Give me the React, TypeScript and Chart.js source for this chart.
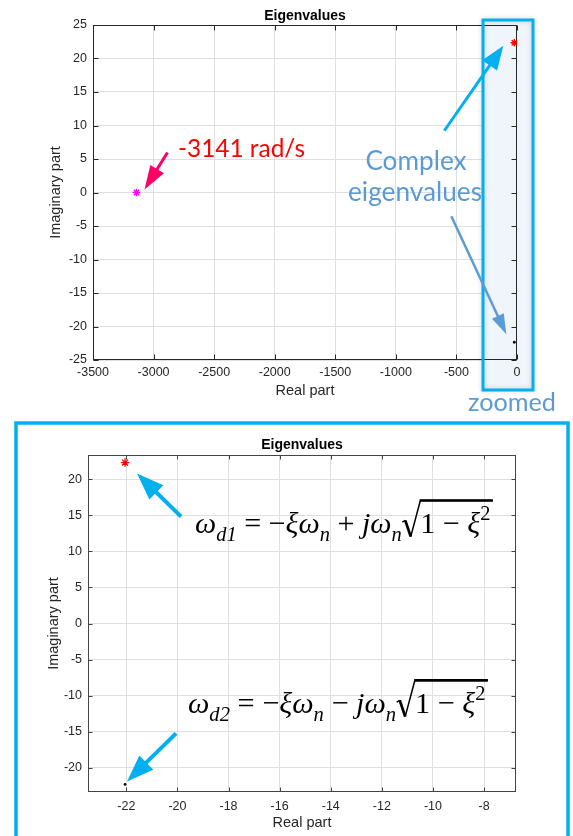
import React, { useEffect, useRef } from "react";
import { Chart, registerables } from "chart.js";

Chart.register(...registerables);

// ---------------- data ----------------
const fastPoleReal = [-3141];
const fastPoleImag = [0];
const upperPoleReal = [-22.05];
const upperPoleImag = [22.35];
const lowerPoleReal = [-22.05];
const lowerPoleImag = [-22.35];

const overviewXTicks = [-3500, -3000, -2500, -2000, -1500, -1000, -500, 0];
const overviewYTicks = [-25, -20, -15, -10, -5, 0, 5, 10, 15, 20, 25];
const overviewXRange = [-3500, 0];
const overviewYRange = [-25, 25];

const zoomXTicks = [-22, -20, -18, -16, -14, -12, -10, -8];
const zoomYTicks = [-20, -15, -10, -5, 0, 5, 10, 15, 20];
const zoomXRange = [-23.5, -6.75];
const zoomYRange = [-23.4, 23.4];

const titleText = "Eigenvalues";
const xAxisLabel = "Real part";
const yAxisLabel = "Imaginary part";
const fastPoleNote = "-3141 rad/s";
const complexNote = ["Complex", "eigenvalues"];
const zoomNote = "zoomed";

// ---------------- styles ----------------
const SANS = '"Liberation Sans", Arial, Helvetica, sans-serif';
const CALLOUT = 'Lato, "Open Sans", sans-serif';
const SERIF = '"Liberation Serif", "DejaVu Serif", serif';
const tickColor = "#262626";
const gridColor = "#dfdfdf";
const cyan = "#00b0f0";
const steel = "#5b9bd5";
const TICK_SIZE = 12.5;
const LABEL_SIZE = 14.5;
const TITLE_SIZE = 14;

const toPts = (xs: number[], ys: number[]) => xs.map((x, i) => ({ x, y: ys[i] }));

function axisX(range: number[], ticks: number[], height: number, tickPad: number, titlePadBottom: number) {
  return {
    type: "linear",
    position: "bottom",
    min: range[0],
    max: range[1],
    afterBuildTicks: (s: any) => {
      s.ticks = ticks.map((v) => ({ value: v }));
    },
    afterFit: (s: any) => {
      s.height = height;
    },
    grid: { color: gridColor, lineWidth: 1, drawTicks: false },
    border: { display: false },
    ticks: {
      z: 1,
      font: { family: SANS, size: TICK_SIZE },
      color: tickColor,
      padding: tickPad,
      maxRotation: 0,
      autoSkip: false,
      callback: (v: any) => String(v),
    },
    title: {
      display: true,
      text: xAxisLabel,
      font: { family: SANS, size: LABEL_SIZE },
      color: tickColor,
      padding: { top: 0, bottom: titlePadBottom },
    },
  };
}

function axisY(range: number[], ticks: number[], width: number, titlePad: number) {
  return {
    type: "linear",
    position: "left",
    min: range[0],
    max: range[1],
    afterBuildTicks: (s: any) => {
      s.ticks = ticks.map((v) => ({ value: v }));
    },
    afterFit: (s: any) => {
      s.width = width;
    },
    grid: { color: gridColor, lineWidth: 1, drawTicks: false },
    border: { display: false },
    ticks: {
      z: 1,
      font: { family: SANS, size: TICK_SIZE },
      color: tickColor,
      padding: 6,
      autoSkip: false,
      callback: (v: any) => String(v),
    },
    title: {
      display: true,
      text: yAxisLabel,
      font: { family: SANS, size: LABEL_SIZE },
      color: tickColor,
      padding: { top: titlePad, bottom: 0 },
    },
  };
}

function drawFrame(chart: any, color: string, tl: number) {
  const { ctx, chartArea: a, scales } = chart;
  const L = Math.round(a.left) + 0.5;
  const R = Math.round(a.right) - 0.5;
  const T = Math.round(a.top) + 0.5;
  const B = Math.round(a.bottom) - 0.5;
  ctx.save();
  ctx.strokeStyle = color;
  ctx.lineWidth = 1;
  ctx.strokeRect(L, T, R - L, B - T);
  ctx.beginPath();
  for (const t of scales.x.ticks) {
    const px = Math.round(scales.x.getPixelForValue(t.value)) + 0.5;
    ctx.moveTo(px, T);
    ctx.lineTo(px, T + tl);
    ctx.moveTo(px, B);
    ctx.lineTo(px, B - tl);
  }
  for (const t of scales.y.ticks) {
    const py = Math.round(scales.y.getPixelForValue(t.value)) + 0.5;
    ctx.moveTo(L, py);
    ctx.lineTo(L + tl, py);
    ctx.moveTo(R, py);
    ctx.lineTo(R - tl, py);
  }
  ctx.stroke();
  ctx.restore();
}

function arrow(ctx: CanvasRenderingContext2D, x0: number, y0: number, x1: number, y1: number, color: string, lw: number, hl: number, hw: number) {
  const a = Math.atan2(y1 - y0, x1 - x0);
  const bx = x1 - hl * Math.cos(a);
  const by = y1 - hl * Math.sin(a);
  ctx.save();
  ctx.strokeStyle = color;
  ctx.fillStyle = color;
  ctx.lineWidth = lw;
  ctx.beginPath();
  ctx.moveTo(x0, y0);
  ctx.lineTo(bx + 2 * Math.cos(a), by + 2 * Math.sin(a));
  ctx.stroke();
  ctx.beginPath();
  ctx.moveTo(x1, y1);
  ctx.lineTo(bx + (hw / 2) * Math.sin(a), by - (hw / 2) * Math.cos(a));
  ctx.lineTo(bx - (hw / 2) * Math.sin(a), by + (hw / 2) * Math.cos(a));
  ctx.closePath();
  ctx.fill();
  ctx.restore();
}

function fitSize(ctx: CanvasRenderingContext2D, text: string, family: string, targetW: number) {
  ctx.font = `40px ${family}`;
  const w = ctx.measureText(text).width;
  return (40 * targetW) / w;
}

// ------------- formula rendering -------------
type Tok = { t?: string; it?: boolean; pos?: "sub" | "sup"; sqrt?: Tok[] };

function tokFont(tok: Tok, fs: number) {
  const size = tok.pos ? fs * 0.68 : fs;
  return `${tok.it ? "italic " : ""}${size}px ${SERIF}`;
}

function renderToks(ctx: CanvasRenderingContext2D, toks: Tok[], fs: number, x: number, y: number, draw: boolean): number {
  let cx = x;
  for (const tok of toks) {
    if (tok.sqrt) {
      const rw = fs * 0.62;
      const innerW = renderToks(ctx, tok.sqrt, fs, cx + rw, y, false);
      if (draw) {
        const top = y - fs * 1.08;
        ctx.save();
        ctx.strokeStyle = "#000";
        ctx.lineJoin = "miter";
        ctx.lineWidth = fs * 0.05;
        ctx.beginPath();
        ctx.moveTo(cx + fs * 0.02, y - fs * 0.36);
        ctx.lineTo(cx + fs * 0.12, y - fs * 0.42);
        ctx.stroke();
        ctx.lineWidth = fs * 0.09;
        ctx.beginPath();
        ctx.moveTo(cx + fs * 0.12, y - fs * 0.42);
        ctx.lineTo(cx + fs * 0.3, y + fs * 0.12);
        ctx.stroke();
        ctx.lineWidth = fs * 0.05;
        ctx.beginPath();
        ctx.moveTo(cx + fs * 0.3, y + fs * 0.12);
        ctx.lineTo(cx + rw, top);
        ctx.lineTo(cx + rw + innerW + fs * 0.08, top);
        ctx.stroke();
        ctx.lineWidth = fs * 0.09;
        ctx.beginPath();
        ctx.moveTo(cx + rw - fs * 0.02, top);
        ctx.lineTo(cx + rw + innerW + fs * 0.08, top);
        ctx.stroke();
        ctx.restore();
        renderToks(ctx, tok.sqrt, fs, cx + rw, y, true);
      }
      cx += rw + innerW + fs * 0.08;
      continue;
    }
    ctx.font = tokFont(tok, fs);
    const w = ctx.measureText(tok.t || "").width;
    if (draw) {
      const dy = tok.pos === "sub" ? fs * 0.26 : tok.pos === "sup" ? -fs * 0.44 : 0;
      ctx.fillText(tok.t || "", cx, y + dy);
    }
    cx += w;
  }
  return cx - x;
}

function drawFormula(ctx: CanvasRenderingContext2D, toks: Tok[], x: number, baseline: number, targetW: number) {
  const natural = renderToks(ctx, toks, 20, 0, 0, false);
  const fs = (20 * targetW) / natural;
  ctx.save();
  ctx.fillStyle = "#000";
  ctx.textBaseline = "alphabetic";
  ctx.textAlign = "left";
  renderToks(ctx, toks, fs, x, baseline, true);
  ctx.restore();
}

const formulaPlus: Tok[] = [
  { t: "ω", it: true },
  { t: "d1", it: true, pos: "sub" },
  { t: " = −" },
  { t: "ξω", it: true },
  { t: "n", it: true, pos: "sub" },
  { t: " + " },
  { t: "jω", it: true },
  { t: "n", it: true, pos: "sub" },
  { sqrt: [{ t: "1 − " }, { t: "ξ", it: true }, { t: "2", pos: "sup" }] },
];
const formulaMinus: Tok[] = [
  { t: "ω", it: true },
  { t: "d2", it: true, pos: "sub" },
  { t: " = −" },
  { t: "ξω", it: true },
  { t: "n", it: true, pos: "sub" },
  { t: " − " },
  { t: "jω", it: true },
  { t: "n", it: true, pos: "sub" },
  { sqrt: [{ t: "1 − " }, { t: "ξ", it: true }, { t: "2", pos: "sup" }] },
];

// ------------- chart configs -------------
function datasets(withFast: boolean) {
  const ds: any[] = [];
  if (withFast) {
    ds.push({
      label: "fast",
      data: toPts(fastPoleReal, fastPoleImag),
      pointStyle: "star",
      pointRadius: 3.8,
      borderColor: "#ff00ff",
      backgroundColor: "#ff00ff",
      pointBorderWidth: 1.3,
      showLine: false,
    });
  }
  ds.push({
    label: "upper",
    data: toPts(upperPoleReal, upperPoleImag),
    pointStyle: "star",
    pointRadius: withFast ? 3.8 : 4.2,
    borderColor: "#ff0000",
    backgroundColor: "#ff0000",
    pointBorderWidth: 1.3,
    showLine: false,
  });
  ds.push({
    label: "lower",
    data: toPts(lowerPoleReal, lowerPoleImag),
    pointStyle: "circle",
    pointRadius: 1.4,
    borderWidth: 0,
    pointBorderWidth: 0,
    backgroundColor: "#000",
    borderColor: "#000",
    showLine: false,
  });
  return ds;
}

function baseOptions(padTop: number, padBottom: number, rightPad: number) {
  return {
    responsive: false,
    animation: false,
    devicePixelRatio: 1,
    events: [],
    layout: { padding: { left: 0, right: rightPad, top: 0, bottom: 0 } },
    plugins: {
      legend: { display: false },
      tooltip: { enabled: false },
      title: {
        display: true,
        text: titleText,
        fullSize: false,
        color: "#000",
        font: { family: SANS, size: TITLE_SIZE, weight: "bold" },
        padding: { top: padTop, bottom: padBottom },
      },
    },
  };
}

function topConfig(): any {
  const overlay = {
    id: "overlayTop",
    beforeDatasetsDraw(chart: any) {
      const { ctx, chartArea: a } = chart;
      ctx.save();
      ctx.fillStyle = "#f0f5fb";
      ctx.fillRect(a.right - 34, 20, 50, 370);
      ctx.restore();
      drawFrame(chart, tickColor, 5);
    },
    afterDraw(chart: any) {
      const { ctx, chartArea: a, scales } = chart;
      const xs = scales.x;
      const ys = scales.y;
      const pf = { x: xs.getPixelForValue(fastPoleReal[0]), y: ys.getPixelForValue(fastPoleImag[0]) };
      const pu = { x: xs.getPixelForValue(upperPoleReal[0]), y: ys.getPixelForValue(upperPoleImag[0]) };
      const pl = { x: xs.getPixelForValue(lowerPoleReal[0]), y: ys.getPixelForValue(lowerPoleImag[0]) };

      // zoom box outline
      ctx.save();
      ctx.shadowColor = "rgba(0,0,0,0.18)";
      ctx.shadowBlur = 5;
      ctx.strokeStyle = cyan;
      ctx.lineWidth = 3;
      ctx.strokeRect(a.right - 34, 20, 50, 370);
      ctx.restore();

      // callouts
      arrow(ctx, pf.x + 31, pf.y - 40, pf.x + 8, pf.y - 3, "#ff0066", 3, 24, 16);
      arrow(ctx, pu.x - 70, pu.y + 88, pu.x - 11, pu.y + 3, cyan, 3, 24, 18);
      arrow(ctx, pl.x - 63, pl.y - 126, pl.x - 8, pl.y - 8, steel, 2.5, 20, 13);

      ctx.save();
      ctx.textBaseline = "alphabetic";
      ctx.fillStyle = "#ff0000";
      ctx.textAlign = "left";
      let fs = fitSize(ctx, fastPoleNote, CALLOUT, 127);
      ctx.font = `${fs}px ${CALLOUT}`;
      ctx.fillText(fastPoleNote, 178, 157);

      ctx.fillStyle = steel;
      ctx.textAlign = "center";
      fs = fitSize(ctx, complexNote[1], CALLOUT, 134);
      ctx.font = `${fs}px ${CALLOUT}`;
      ctx.fillText(complexNote[0], 416, 170);
      ctx.fillText(complexNote[1], 415, 201);

      fs = fitSize(ctx, zoomNote, CALLOUT, 88);
      ctx.font = `${fs}px ${CALLOUT}`;
      ctx.fillText(zoomNote, 512, 411);
      ctx.restore();
    },
  };
  return {
    type: "scatter",
    data: { datasets: datasets(true) },
    options: {
      ...baseOptions(7.6, 0.6, 56),
      scales: {
        x: axisX(overviewXRange, overviewXTicks, 60, 5.2, 20.3),
        y: axisY(overviewYRange, overviewYTicks, 93, 47.5),
      },
    },
    plugins: [overlay],
  };
}

function bottomConfig(): any {
  const overlay = {
    id: "overlayBottom",
    beforeDatasetsDraw(chart: any) {
      drawFrame(chart, "#444444", 4);
    },
    afterDraw(chart: any) {
      const { ctx, scales } = chart;
      const xs = scales.x;
      const ys = scales.y;
      const pu = { x: xs.getPixelForValue(upperPoleReal[0]), y: ys.getPixelForValue(upperPoleImag[0]) };
      const pl = { x: xs.getPixelForValue(lowerPoleReal[0]), y: ys.getPixelForValue(lowerPoleImag[0]) };

      ctx.save();
      ctx.strokeStyle = cyan;
      ctx.lineWidth = 3.5;
      ctx.strokeRect(16, 3, 552, 440);
      ctx.restore();

      arrow(ctx, pu.x + 56, pu.y + 54, pu.x + 12, pu.y + 11, cyan, 4, 27, 20);
      arrow(ctx, pl.x + 51, pl.y - 51, pl.x + 2, pl.y - 3, cyan, 4, 27, 20);

      drawFormula(ctx, formulaPlus, 195, 113, 298);
      drawFormula(ctx, formulaMinus, 188, 293, 300);
    },
  };
  return {
    type: "scatter",
    data: { datasets: datasets(false) },
    options: {
      ...baseOptions(16.6, 1.6, 57),
      scales: {
        x: axisX(zoomXRange, zoomXTicks, 44, 7.2, 4.3),
        y: axisY(zoomYRange, zoomYTicks, 88, 45),
      },
    },
    plugins: [overlay],
  };
}

export default function App() {
  const topRef = useRef<HTMLCanvasElement>(null);
  const botRef = useRef<HTMLCanvasElement>(null);
  useEffect(() => {
    const c1 = new Chart(topRef.current as HTMLCanvasElement, topConfig());
    const c2 = new Chart(botRef.current as HTMLCanvasElement, bottomConfig());
    return () => {
      c1.destroy();
      c2.destroy();
    };
  }, []);
  return (
    <div
      style={{
        position: "fixed",
        left: 0,
        top: 0,
        width: 573,
        height: 836,
        overflow: "hidden",
        background: "#fff",
      }}
    >
      <canvas
        ref={topRef}
        width={573}
        height={420}
        style={{ position: "absolute", left: 0, top: 0, width: 573, height: 420 }}
      />
      <canvas
        ref={botRef}
        width={573}
        height={416}
        style={{ position: "absolute", left: 0, top: 420, width: 573, height: 416 }}
      />
    </div>
  );
}
